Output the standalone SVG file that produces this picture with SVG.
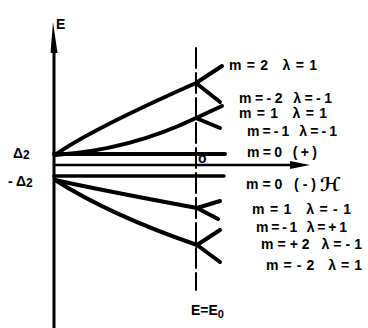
<svg xmlns="http://www.w3.org/2000/svg" width="368" height="328" viewBox="0 0 368 328">
<style>
.ln{fill:none;stroke:#000;stroke-linecap:round;stroke-linejoin:round}
.t{font-family:"Liberation Sans",Arial,sans-serif;font-weight:bold;font-size:14px;fill:#000}
</style>
<rect width="368" height="328" fill="#fff"/>
<g id="axes">
<path class="ln" d="M54,50 V328" stroke-width="3"/>
<polygon points="53,22 50.5,53 57.5,53" fill="#000"/>
<path class="ln" d="M55,165 H296" stroke-width="2.5"/>
<polygon points="290,161 310,165 290,169" fill="#000"/>
<path class="ln" d="M196,48 V290" stroke-width="2" stroke-dasharray="20 5" stroke-linecap="butt"/>
</g>
<g id="connectors">
<path class="ln" d="M54,154 H225" stroke-width="4"/>
<path class="ln" d="M54,176 H224" stroke-width="3.5"/>
<path class="ln" d="M55,155 Q90,130 196,83 L222,66 M196,83 L220,102" stroke-width="4"/>
<path class="ln" d="M55,155 Q130,150 196,118 L222,106 M196,118 L220,128" stroke-width="4"/>
<path class="ln" d="M55,180 Q100,190 197,208 L220,201 M197,208 L218,219" stroke-width="4"/>
<path class="ln" d="M55,180 Q110,215 197,245 L220,230 M197,245 L220,262" stroke-width="4"/>
</g>
<g id="labels">
<text class="t" x="56" y="29" font-size="20">E</text>
<text class="t" x="13" y="158" font-size="15">Δ<tspan font-size="12" dy="1">2</tspan></text>
<text class="t" x="8" y="186" font-size="15">- Δ<tspan font-size="12" dy="1">2</tspan></text>
<text class="t" x="198" y="163" font-size="10">o</text>
<text class="t" x="229" y="70" textLength="88" lengthAdjust="spacing">m=2  λ=1</text>
<text class="t" x="239" y="103" textLength="93" lengthAdjust="spacing">m=-2  λ=-1</text>
<text class="t" x="239" y="118" textLength="88" lengthAdjust="spacing">m=1  λ=1</text>
<text class="t" x="247" y="136" textLength="90" lengthAdjust="spacing">m=-1  λ=-1</text>
<text class="t" x="247" y="157" textLength="70" lengthAdjust="spacing">m=0 (+)</text>
<text class="t" x="246" y="189" textLength="70" lengthAdjust="spacing">m=0 (-)</text>
<text x="320" y="191" font-family="DejaVu Sans,sans-serif" font-size="19" font-weight="bold">ℋ</text>
<text class="t" x="252" y="214" textLength="99" lengthAdjust="spacing">m=1  λ=-1</text>
<text class="t" x="256" y="232" textLength="91" lengthAdjust="spacing">m=-1  λ=+1</text>
<text class="t" x="261" y="249" textLength="101" lengthAdjust="spacing">m=+2  λ=-1</text>
<text class="t" x="266" y="270" textLength="96" lengthAdjust="spacing">m=-2  λ=1</text>
<text class="t" x="191" y="315" font-size="16">E=E<tspan font-size="11" dy="3">0</tspan></text>
</g>
</svg>
